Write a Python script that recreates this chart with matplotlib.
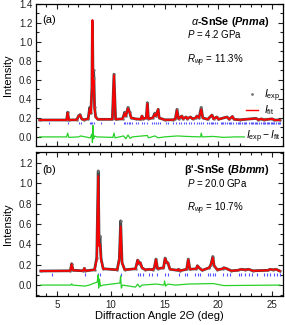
"""
Rietveld refinement of SnSe powder patterns at 4.2 GPa and 20.0 GPa
"""

import matplotlib
matplotlib.use('Agg')
import matplotlib.pyplot as plt
from matplotlib.lines import Line2D
from matplotlib.ticker import MultipleLocator

plt.rcParams['font.family'] = ['Liberation Sans', 'DejaVu Sans']
plt.rcParams['mathtext.fontset'] = 'custom'
plt.rcParams['mathtext.rm'] = 'Liberation Sans'
plt.rcParams['mathtext.it'] = 'Liberation Sans:italic'
plt.rcParams['mathtext.bf'] = 'Liberation Sans:bold'
plt.rcParams['mathtext.bfit'] = 'Liberation Sans:bold:italic'

# ---- panel (a): alpha-SnSe, Pnma, 4.2 GPa ----

a_fit_x = [3.4, 5.9, 6.0, 6.1, 6.85, 7.0, 7.15, 7.3, 7.5, 7.9, 8.05, 8.15, 8.25, 8.30,
           8.36, 8.42, 8.5, 8.6, 8.8, 10.15, 10.3, 10.45, 11.1, 11.3, 11.4, 11.6, 11.75,
           11.9, 12.3, 12.8, 12.9, 13.0, 13.3, 13.4, 13.5, 13.9, 14.1, 14.2, 14.4, 14.5,
           15.0, 15.8, 16.0, 16.15, 16.3, 16.6, 16.7, 17.0, 17.1, 17.4, 17.6, 17.9, 18.0,
           18.2, 18.4, 18.55, 19.0, 19.4, 19.55, 19.85, 20.0, 20.8, 21.0, 21.3, 21.45,
           22.0, 22.5, 23.5, 23.7, 24.0, 24.2, 25.0, 25.2, 25.7]
a_fit_y = [0.178, 0.178, 0.255, 0.178, 0.18, 0.215, 0.23, 0.19, 0.18, 0.19, 0.30, 0.25, 0.50, 1.23,
           0.55, 0.60, 0.30, 0.21, 0.185, 0.185, 0.65, 0.185, 0.19, 0.25, 0.22, 0.30, 0.26,
           0.20, 0.19, 0.185, 0.22, 0.19, 0.20, 0.35, 0.19, 0.20, 0.24, 0.22, 0.29, 0.20,
           0.18, 0.18, 0.19, 0.28, 0.19, 0.22, 0.19, 0.21, 0.19, 0.21, 0.19, 0.20, 0.22,
           0.20, 0.29, 0.20, 0.185, 0.23, 0.19, 0.21, 0.185, 0.21, 0.185, 0.215, 0.185,
           0.18, 0.185, 0.195, 0.18, 0.19, 0.18, 0.19, 0.178, 0.178]

a_exp_x = [3.4, 5.9, 6.0, 6.1, 6.85, 7.0, 7.15, 7.3, 7.5, 7.9, 8.05, 8.15, 8.25, 8.30,
           8.36, 8.40, 8.44, 8.5, 8.6, 8.8, 10.15, 10.3, 10.45, 11.1, 11.3, 11.4, 11.6,
           11.75, 11.9, 12.3, 12.8, 12.9, 13.0, 13.3, 13.4, 13.5, 13.9, 14.1, 14.2, 14.4,
           14.5, 15.0, 15.8, 16.0, 16.15, 16.3, 16.6, 16.7, 17.0, 17.1, 17.4, 17.6, 17.9,
           18.0, 18.2, 18.4, 18.55, 19.0, 19.4, 19.55, 19.85, 20.0, 20.8, 21.0, 21.3,
           21.45, 22.0, 22.5, 23.5, 23.7, 24.0, 24.2, 25.0, 25.2, 25.7]
a_exp_y = [0.178, 0.178, 0.26, 0.178, 0.18, 0.22, 0.235, 0.19, 0.18, 0.19, 0.31, 0.25, 0.52, 1.22,
           0.56, 0.70, 0.62, 0.31, 0.21, 0.185, 0.185, 0.66, 0.185, 0.19, 0.26, 0.22, 0.31,
           0.26, 0.20, 0.19, 0.185, 0.22, 0.19, 0.20, 0.36, 0.19, 0.20, 0.25, 0.22, 0.29,
           0.20, 0.18, 0.18, 0.19, 0.29, 0.19, 0.22, 0.19, 0.21, 0.19, 0.21, 0.19, 0.20,
           0.22, 0.20, 0.31, 0.20, 0.185, 0.23, 0.19, 0.21, 0.185, 0.21, 0.185, 0.215,
           0.185, 0.18, 0.185, 0.195, 0.18, 0.19, 0.18, 0.19, 0.178, 0.178]

a_diff_x = [3.4, 5.9, 6.0, 6.1, 7.0, 7.2, 8.1, 8.25, 8.3, 8.35, 8.4, 8.5, 8.7, 10.2, 10.3,
            10.4, 11.2, 11.4, 11.6, 11.8, 12.0, 13.4, 13.5, 14.1, 14.4, 15.0, 16.2, 17.0,
            18.35, 18.4, 18.5, 19.5, 20.5, 21.5, 25.7]
a_diff_y = [0.0, 0.0, 0.04, -0.005, 0.0, 0.01, -0.01, 0.03, -0.06, 0.12, -0.02, 0.01, 0.0, -0.005, 0.04,
            -0.01, 0.01, -0.02, 0.02, -0.015, 0.0, 0.015, -0.01, 0.01, -0.01, 0.0, 0.01, 0.005,
            0.0, 0.04, 0.0, 0.005, -0.005, 0.0, 0.0]

a_bragg = [4.25, 6.0, 7.05, 7.25, 8.05, 8.15, 8.3, 8.45, 9.1, 10.3, 11.2, 11.35, 11.5, 11.65,
           11.8, 12.0, 12.3, 12.5, 12.9, 13.1, 13.4, 13.8, 14.0, 14.2, 14.4, 14.6, 15.1, 15.3,
           15.8, 16.1, 16.3, 16.5, 16.8, 17.0, 17.3, 17.5, 17.7, 18.0, 18.2, 18.4, 18.6, 18.9,
           19.1, 19.3, 19.4, 19.5, 19.7, 19.9, 20.2, 20.3, 20.4, 20.6, 20.8, 21.0, 21.1, 21.2,
           21.4, 21.6, 21.8, 21.9, 22.0, 22.2, 22.4, 22.5, 22.6, 22.8, 23.0, 23.1, 23.2, 23.4,
           23.5, 23.6, 23.8, 24.0, 24.1, 24.2, 24.35, 24.5, 24.6, 24.7, 24.85, 25.0, 25.1,
           25.2, 25.35, 25.5, 25.6, 25.7]

# ---- panel (b): beta'-SnSe, Bbmm, 20.0 GPa ----

b_fit_x = [3.5, 6.25, 6.37, 6.5, 7.45, 7.55, 7.65, 8.5, 8.7, 8.84, 8.92, 9.0, 9.1, 9.3,
           10.6, 10.8, 10.92, 11.05, 11.3, 12.3, 12.5, 12.6, 12.75, 12.9, 13.2, 13.6, 13.9,
           14.05, 14.2, 14.35, 14.9, 15.05, 15.2, 15.3, 15.5, 16.2, 16.3, 16.4, 17.05, 17.2,
           17.35, 17.95, 18.05, 18.25, 18.5, 19.15, 19.3, 19.48, 19.6, 19.9, 20.4, 20.5,
           20.8, 21.2, 21.8, 22.1, 22.5, 22.8, 23.2, 24.6, 24.8, 25.1, 25.35, 25.7]
b_fit_y = [0.138, 0.14, 0.205, 0.145, 0.14, 0.165, 0.14, 0.15, 0.25, 1.07, 0.38, 0.40, 0.25, 0.16,
           0.15, 0.25, 0.575, 0.22, 0.15, 0.16, 0.245, 0.21, 0.22, 0.17, 0.15, 0.155, 0.15,
           0.17, 0.25, 0.16, 0.17, 0.26, 0.22, 0.22, 0.155, 0.145, 0.155, 0.14, 0.155, 0.25,
           0.155, 0.16, 0.19, 0.165, 0.145, 0.17, 0.20, 0.27, 0.19, 0.15, 0.16, 0.17,
           0.16, 0.14, 0.145, 0.155, 0.15, 0.155, 0.14, 0.145, 0.155, 0.15, 0.155, 0.138]

b_exp_x = [3.5, 6.25, 6.37, 6.5, 7.45, 7.55, 7.65, 8.5, 8.7, 8.84, 8.92, 9.0, 9.1, 9.3,
           10.6, 10.8, 10.92, 11.05, 11.3, 12.3, 12.5, 12.6, 12.75, 12.9, 13.2, 13.6, 13.9,
           14.05, 14.2, 14.35, 14.9, 15.05, 15.2, 15.3, 15.5, 16.2, 16.3, 16.4, 17.05, 17.2,
           17.35, 17.95, 18.05, 18.25, 18.5, 19.15, 19.3, 19.48, 19.6, 19.9, 20.4, 20.5,
           20.8, 21.2, 21.8, 22.1, 22.5, 22.8, 23.2, 24.6, 24.8, 25.1, 25.35, 25.7]
b_exp_y = [0.138, 0.14, 0.21, 0.145, 0.14, 0.165, 0.14, 0.15, 0.27, 1.12, 0.40, 0.48, 0.26, 0.16,
           0.15, 0.26, 0.63, 0.22, 0.15, 0.16, 0.245, 0.21, 0.22, 0.17, 0.15, 0.155, 0.15,
           0.17, 0.255, 0.16, 0.17, 0.265, 0.22, 0.22, 0.155, 0.145, 0.155, 0.14, 0.155, 0.255,
           0.155, 0.16, 0.19, 0.165, 0.145, 0.17, 0.20, 0.28, 0.19, 0.15, 0.16, 0.17,
           0.16, 0.14, 0.145, 0.155, 0.15, 0.155, 0.14, 0.145, 0.155, 0.15, 0.155, 0.138]

b_diff_x = [3.5, 6.3, 6.37, 6.45, 7.6, 8.0, 8.75, 8.82, 8.88, 8.95, 9.05, 9.3, 10.85, 10.92,
            10.98, 11.1, 12.3, 12.5, 12.7, 12.9, 14.2, 14.95, 15.0, 15.1, 15.3, 16.0, 17.2,
            19.5, 20.5, 25.7]
b_diff_y = [0.0, 0.0, 0.012, 0.0, -0.01, 0.0, 0.03, 0.10, -0.03, 0.06, -0.01, 0.0, 0.02, 0.09,
            -0.03, 0.0, -0.02, 0.01, -0.02, 0.0, 0.01, 0.0, 0.04, -0.01, 0.01, 0.0, 0.01,
            0.015, -0.005, 0.0]

b_bragg = [4.5, 7.6, 8.84, 9.0, 10.92, 12.5, 12.72, 12.97, 13.56, 13.87, 14.27, 15.05, 15.3,
           16.35, 16.9, 17.12, 17.84, 18.15, 18.3, 19.0, 19.23, 19.48, 19.7, 20.4, 20.78,
           21.1, 21.87, 22.1, 22.5, 22.8, 23.1, 23.58, 24.2, 24.5, 24.8, 25.2, 25.44, 25.74]

# ---- plotting ----

gray = '#4a4a4a'
blue = '#5555ff'
green = '#2ad12a'

fig = plt.figure(figsize=(2.85, 3.25), dpi=100)
ax1 = fig.add_axes([0.126, 0.551, 0.867, 0.437])
ax2 = fig.add_axes([0.126, 0.089, 0.867, 0.443])

panels = [
    (ax1, a_exp_x, a_exp_y, a_fit_x, a_fit_y, a_diff_x, a_diff_y, a_bragg, 0.132, 0.160, (-0.095, 1.4)),
    (ax2, b_exp_x, b_exp_y, b_fit_x, b_fit_y, b_diff_x, b_diff_y, b_bragg, 0.092, 0.122, (-0.108, 1.305)),
]

for ax, ex, ey, fx, fy, dx, dy, bragg, b0, b1, ylim in panels:
    ax.plot(ex, ey, color=gray, lw=2.0, zorder=2)
    ax.plot(ex, ey, 'o', ms=1.8, mew=0, color='#777777', zorder=2)
    ax.plot(fx, fy, color='red', lw=1.3, zorder=3)
    ax.vlines(bragg, b0, b1, color=blue, lw=0.8, zorder=2)
    ax.plot(dx, dy, color=green, lw=0.9, zorder=2)
    ax.set_xlim(3.05, 26.0)
    ax.set_ylim(*ylim)
    ax.xaxis.set_major_locator(MultipleLocator(5))
    ax.xaxis.set_minor_locator(MultipleLocator(1))
    ax.yaxis.set_major_locator(MultipleLocator(0.2))
    ax.yaxis.set_minor_locator(MultipleLocator(0.1))
    ax.tick_params(which='both', direction='in', top=True, right=True, labelsize=7,
                   width=0.8, colors='#222222', pad=2.5)
    ax.tick_params(which='major', length=3.5)
    ax.tick_params(which='minor', length=2)
    for s in ax.spines.values():
        s.set_linewidth(0.9)
    ax.set_ylabel('Intensity', fontsize=8, labelpad=4)

ax1.set_yticks([0.0, 0.2, 0.4, 0.6, 0.8, 1.0, 1.2, 1.4])
ax1.set_yticklabels(['0.0', '0.2', '0.4', '0.6', '0.8', '1.0', '1.2', '1.4'])
ax2.set_yticks([0.0, 0.2, 0.4, 0.6, 0.8, 1.0, 1.2])
ax2.set_yticklabels(['0.0', '0.2', '0.4', '0.6', '0.8', '1.0', '1.2'])
ax1.tick_params(labelbottom=False)
ax2.set_xlabel('Diffraction Angle 2\u0398 (deg)', fontsize=8, labelpad=1)

# panel labels and text
ax1.text(0.025, 0.887, '(a)', transform=ax1.transAxes, fontsize=8, va='center')
ax1.text(0.945, 0.871, r'$\alpha$-SnSe ($\mathbfit{Pnma}$)', transform=ax1.transAxes,
         fontsize=7.8, fontweight='bold', ha='right', va='center')
ax1.text(0.61, 0.787, r'$\mathit{P}$ = 4.2 GPa', transform=ax1.transAxes, fontsize=7, va='center')
ax1.text(0.61, 0.60, r'$\mathit{R}_{\mathit{wp}}$ = 11.3%', transform=ax1.transAxes,
         fontsize=7, va='center')

ax2.text(0.025, 0.878, '(b)', transform=ax2.transAxes, fontsize=8, va='center')
ax2.text(0.945, 0.878, "\u03b2'-SnSe ($\\mathbfit{Bbmm}$)", transform=ax2.transAxes,
         fontsize=7.8, fontweight='bold', ha='right', va='center')
ax2.text(0.61, 0.785, r'$\mathit{P}$ = 20.0 GPa', transform=ax2.transAxes, fontsize=7, va='center')
ax2.text(0.61, 0.606, r'$\mathit{R}_{\mathit{wp}}$ = 10.7%', transform=ax2.transAxes,
         fontsize=7, va='center')

handles = [Line2D([], [], ls='none', marker='o', ms=2, mew=0, color='#777777'),
           Line2D([], [], color='red', lw=1.0)]
ax1.legend(handles, [r'$\mathit{I}_{\mathrm{exp}}$', r'$\mathit{I}_{\mathrm{fit}}$'],
           loc='lower right', bbox_to_anchor=(1.02, 0.15), frameon=False, fontsize=7.5,
           handlelength=1.2, handletextpad=0.6, labelspacing=0.0, borderpad=0.2)
ax1.text(0.99, 0.063, r'$\mathit{I}_{\mathrm{exp}} - \mathit{I}_{\mathrm{fit}}$',
         transform=ax1.transAxes, fontsize=7.5, ha='right', va='center', zorder=5,
         bbox=dict(facecolor='white', edgecolor='none', pad=0.5))

fig.savefig('out.png', dpi=100)
